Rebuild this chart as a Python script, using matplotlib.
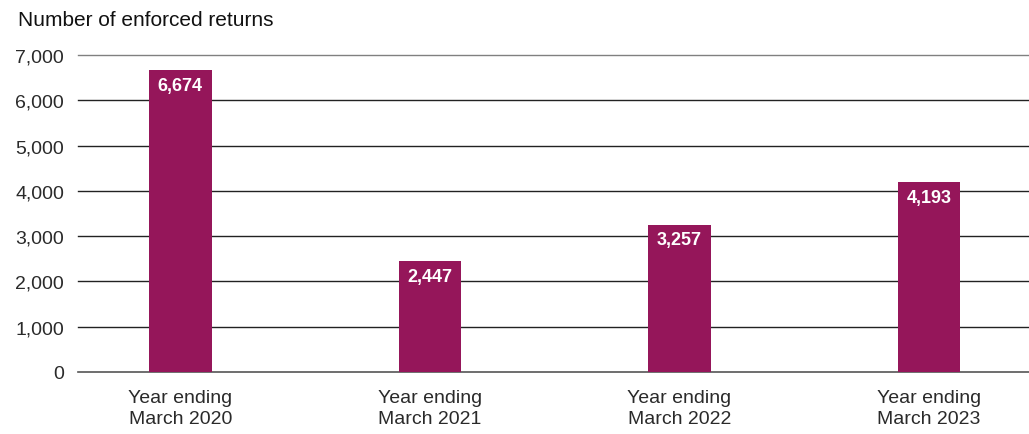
import matplotlib.pyplot as plt
from matplotlib.ticker import FuncFormatter

years = ["Year ending\nMarch 2020", "Year ending\nMarch 2021",
         "Year ending\nMarch 2022", "Year ending\nMarch 2023"]
returns = [6674, 2447, 3257, 4193]
yticks = [0, 1000, 2000, 3000, 4000, 5000, 6000, 7000]

bar_color = "#95165A"
text_color = "#2a2a2a"

plt.rcParams["font.family"] = ["Liberation Sans", "DejaVu Sans"]

fig = plt.figure(figsize=(10.29, 4.35), dpi=100)
ax = fig.add_axes([78 / 1029, 1 - 373 / 435, 1 - 78 / 1029, (373 - 56) / 435])

x = list(range(len(years)))
ax.bar(x, returns, width=0.25, color=bar_color, zorder=3)

for xi, v in zip(x, returns):
    ax.text(xi, v - 340, f"{v:,}", ha="center", va="center",
            color="white", fontsize=13, fontweight="bold", zorder=4)

ax.set_xlim(-0.41, 3.40)
ax.set_ylim(0, 7000)
ax.set_yticks(yticks)
ax.yaxis.set_major_formatter(FuncFormatter(lambda v, p: f"{int(v):,}"))
ax.set_xticks(x)
ax.set_xticklabels(years)

for t in yticks:
    if t == 7000:
        c = "#808080"
    elif t == 0:
        c = "#555555"
    else:
        c = "#222222"
    ax.axhline(t, color=c, linewidth=1.2 if t == 0 else 1.0,
               zorder=1, clip_on=False)

for s in ax.spines.values():
    s.set_visible(False)
ax.tick_params(axis="both", length=0, labelsize=14, colors=text_color)
ax.tick_params(axis="y", pad=10)
ax.tick_params(axis="x", pad=12)
for lbl in ax.get_xticklabels():
    lbl.set_linespacing(1.35)

fig.text(18 / 1029, 1 - 21 / 435, "Number of enforced returns",
         ha="left", va="center", fontsize=15, color="#111111")

fig.savefig("out.png", dpi=100)
